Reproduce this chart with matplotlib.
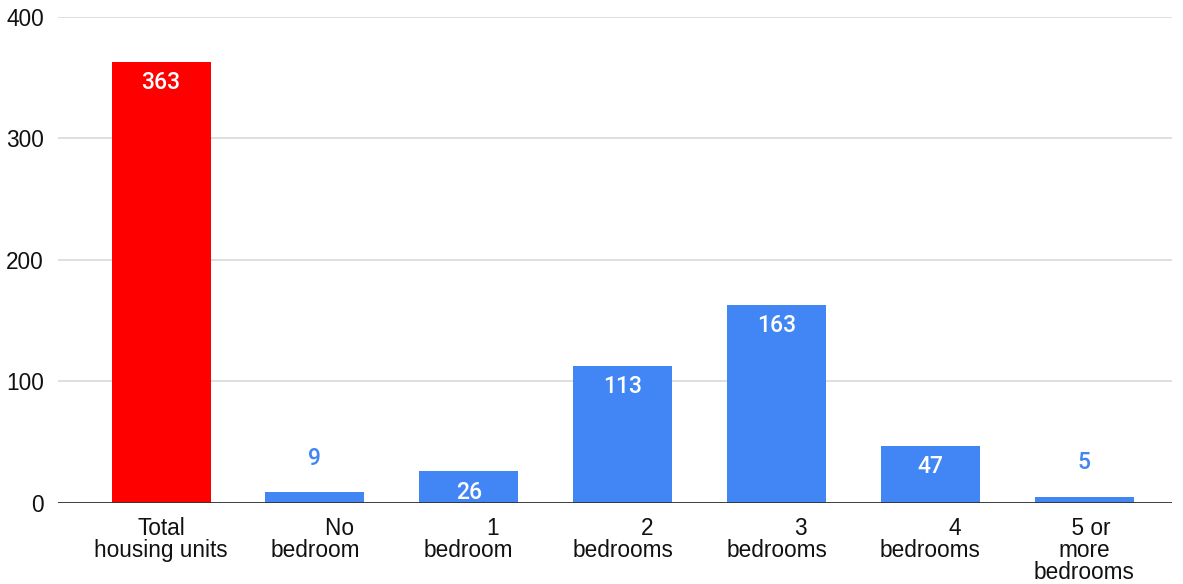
import matplotlib.pyplot as plt
import numpy as np

categories = ["Total\nhousing units", "No\nbedroom", "1\nbedroom", "2\nbedrooms",
              "3\nbedrooms", "4\nbedrooms", "5 or\nmore\nbedrooms"]
values = [363, 9, 26, 113, 163, 47, 5]
colors = ["#ff0000"] + ["#4285f4"] * 6
yticks = [0, 100, 200, 300, 400]

# google sheets pushes the first line of these labels to the right
first_pad = [0, 8, 8, 8, 8, 8, 2]

plt.rcParams['font.family'] = ['Liberation Sans', 'DejaVu Sans']

fig = plt.figure(figsize=(11.83, 5.84), dpi=100)
ax = fig.add_axes([0.049, 0.1387, 0.9417, 0.8322])

x = np.arange(len(categories))
bars = ax.bar(x, values, width=0.643, color=colors, zorder=3)

# value labels: white inside tall bars, blue above short ones
for b, v in zip(bars, values):
    cx = b.get_x() + b.get_width() / 2
    if v > 20:
        ax.annotate(str(v), (cx, v), xytext=(0, -21), textcoords='offset pixels',
                    ha='center', va='center', color='white', fontsize=16.5,
                    family=['Roboto', 'DejaVu Sans'], fontweight='medium', zorder=4)
    else:
        ax.annotate(str(v), (cx, v), xytext=(0, 34), textcoords='offset pixels',
                    ha='center', va='center', color='#4285f4', fontsize=16.5,
                    family=['Roboto', 'DejaVu Sans'], fontweight='medium', zorder=4)

labels = []
for lab, pad in zip(categories, first_pad):
    lines = lab.split("\n")
    lines[0] = " " * pad + lines[0]
    labels.append("\n".join(lines))

ax.set_xticks(x)
ax.set_xticklabels(labels, fontsize=16.3, linespacing=0.95, multialignment='center')
ax.set_yticks(yticks)
ax.set_yticklabels([str(t) for t in yticks], fontsize=16.3)
ax.tick_params(axis='both', length=0, colors='#111111')
ax.tick_params(axis='x', pad=10)
ax.tick_params(axis='y', pad=10)

ax.set_xlim(-0.67, 6.57)
ax.set_ylim(0, 400)
ax.grid(axis='y', color='#d9d9d9', linewidth=1.2, zorder=0)
ax.axhline(0, color='#333333', linewidth=1.3, zorder=5)
for s in ax.spines.values():
    s.set_visible(False)

fig.savefig("out.png", dpi=100)
